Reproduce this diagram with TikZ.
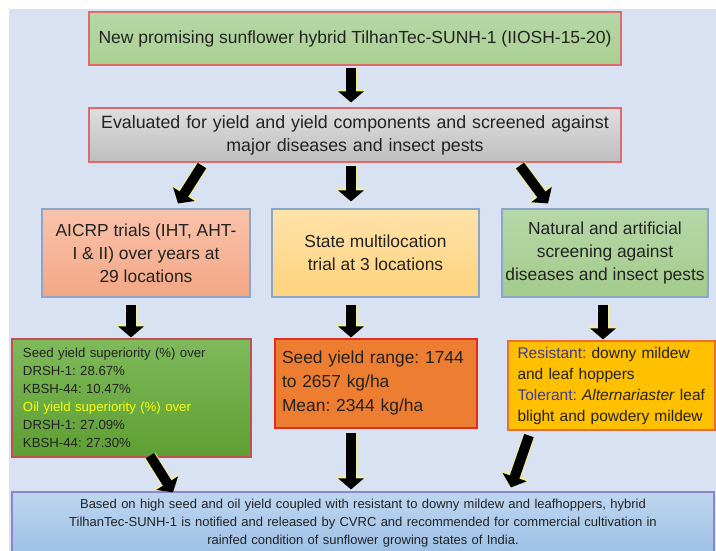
\documentclass[tikz,border=0pt]{standalone}
\usepackage{fontspec}
\setmainfont{Liberation Sans}
\usetikzlibrary{arrows.meta,shadings}
\definecolor{panel}{HTML}{D9E2F3}
\definecolor{txt}{HTML}{222222}
\definecolor{redborder}{HTML}{E06A6A}
\definecolor{blueborder}{HTML}{8AA6C8}
\definecolor{arrowglow}{HTML}{F2F08A}
\definecolor{oilyellow}{HTML}{FFFF00}
\definecolor{resblue}{HTML}{3A3A9C}
\definecolor{gtop}{RGB}{182,215,168}
\definecolor{gbot}{RGB}{170,208,144}
\definecolor{graytop}{RGB}{222,222,222}
\definecolor{graybot}{RGB}{190,190,190}
\definecolor{saltop}{RGB}{249,195,171}
\definecolor{salbot}{RGB}{243,166,132}
\definecolor{ortop}{RGB}{255,227,170}
\definecolor{orbot}{RGB}{255,210,125}
\definecolor{g5bot}{RGB}{163,203,139}
\definecolor{dgtop}{RGB}{126,186,90}
\definecolor{dgbot}{RGB}{94,158,50}
\definecolor{dgborder}{RGB}{192,80,77}
\definecolor{orangefill}{RGB}{237,125,49}
\definecolor{orangeborder}{RGB}{225,45,30}
\definecolor{amberfill}{RGB}{255,192,0}
\definecolor{amberborder}{RGB}{235,110,45}
\definecolor{bltop}{RGB}{190,214,239}
\definecolor{blbot}{RGB}{157,192,230}
\definecolor{blborder}{RGB}{140,135,200}
\begin{document}
\frenchspacing
\begin{tikzpicture}[x=1pt,y=-1pt,
  box/.style={draw, line width=1.1pt, inner sep=0pt, align=center, text=txt},
  bigfont/.style={font=\fontsize{17.4}{23}\selectfont},
  bigarrow/.style={line width=10pt, black, -{Triangle[width=25pt,length=11pt]},
    preaction={draw=arrowglow, line width=12pt, -{Triangle[width=29pt,length=13pt]}}},
]
\useasboundingbox (0,0) rectangle (716,551);
\fill[white] (0,0) rectangle (716,551);
\fill[panel] (9,9) rectangle (716,551);

% top boxes
\node[box, font=\fontsize{17.5}{23}\selectfont, draw=redborder, minimum width=532pt, minimum height=53pt,
  top color=gtop, bottom color=gbot]
  (box1) at (355,38.5) {New promising sunflower hybrid TilhanTec-SUNH-1 (IIOSH-15-20)};

\node[box, font=\fontsize{17.8}{23}\selectfont, draw=redborder, minimum width=532pt, minimum height=54pt, text width=524pt,
  top color=graytop, bottom color=graybot]
  (box2) at (355,135) {Evaluated for yield and yield components and screened against\\ major diseases and insect pests};

% middle row
\node[box, bigfont, draw=blueborder, minimum width=208pt, minimum height=88pt,
  top color=saltop, bottom color=salbot]
  (box3) at (146,253) {AICRP trials (IHT, AHT-\\ I \& II) over years at\\ 29 locations};

\node[box, bigfont, draw=blueborder, minimum width=207pt, minimum height=88pt,
  top color=ortop, bottom color=orbot]
  (box4) at (375.5,253) {State multilocation\\ trial at 3 locations};

\node[box, bigfont, draw=blueborder, minimum width=206pt, minimum height=88pt,
  top color=gtop, bottom color=g5bot]
  (box5) at (605,253) {Natural and artificial\\ screening against\\ diseases and insect pests};

% result row
\node[box, font=\fontsize{13.2}{18}\selectfont, align=left, draw=dgborder,
  minimum width=239pt, minimum height=118pt, text width=217pt,
  top color=dgtop, bottom color=dgbot]
  (box6) at (131.5,398) {Seed yield superiority (\%) over\\ DRSH-1: 28.67\%\\ KBSH-44: 10.47\%\\
  {\color{oilyellow}Oil yield superiority (\%) over}\\ DRSH-1: 27.09\%\\ KBSH-44: 27.30\%};

\node[box, font=\fontsize{17.4}{24}\selectfont, align=left, draw=orangeborder,
  minimum width=202pt, minimum height=89pt, text width=188pt, fill=orangefill]
  (box7) at (376,383.5) {Seed yield range: 1744\\ to 2657 kg/ha\\ Mean: 2344 kg/ha};

\node[box, font=\fontsize{15.5}{21}\selectfont, align=left, draw=amberborder,
  minimum width=207pt, minimum height=89pt, text width=188pt, fill=amberfill]
  (box8) at (611.5,385.5) {{\color{resblue}Resistant:} downy mildew\\ and leaf hoppers\\
  {\color{resblue}Tolerant:} \textit{Alternariaster} leaf\\ blight and powdery mildew};

% bottom box
\node[box, font=\fontsize{13}{18}\selectfont, draw=blborder,
  minimum width=702pt, minimum height=62pt, text width=690pt,
  top color=bltop, bottom color=blbot]
  (box9) at (363,523) {Based on high seed and oil yield coupled with resistant to downy mildew and leafhoppers, hybrid\\
  TilhanTec-SUNH-1 is notified and released by CVRC and recommended for commercial cultivation in\\
  rainfed condition of sunflower growing states of India.};

% arrows
\draw[bigarrow] ([xshift=-4pt,yshift=-2pt]box1.south) -- ([xshift=-4pt,yshift=5pt]box2.north);
\draw[bigarrow] ([xshift=-153pt,yshift=-3pt]box2.south) -- ([xshift=32pt,yshift=5pt]box3.north);
\draw[bigarrow] ([xshift=-4pt,yshift=-3pt]box2.south) -- ([xshift=-24.5pt,yshift=7pt]box4.north);
\draw[bigarrow] ([xshift=165pt,yshift=-3pt]box2.south) -- ([xshift=-57pt,yshift=5pt]box5.north);
\draw[bigarrow] ([xshift=-15pt,yshift=-7pt]box3.south) -- ([xshift=-0.5pt,yshift=1pt]box6.north);
\draw[bigarrow] ([xshift=-24.5pt,yshift=-7pt]box4.south) -- ([xshift=-25pt,yshift=1pt]box7.north);
\draw[bigarrow] ([xshift=-2pt,yshift=-7pt]box5.south) -- ([xshift=-8.5pt,yshift=1pt]box8.north);
\draw[bigarrow] ([xshift=18.5pt,yshift=2pt]box6.south) -- ([xshift=-190pt,yshift=-1pt]box9.north);
\draw[bigarrow] ([xshift=-25pt,yshift=-4pt]box7.south) -- ([xshift=-12pt,yshift=2pt]box9.north);
\draw[bigarrow] ([xshift=-82.5pt,yshift=-5pt]box8.south) -- ([xshift=148pt,yshift=4pt]box9.north);
\end{tikzpicture}
\end{document}
